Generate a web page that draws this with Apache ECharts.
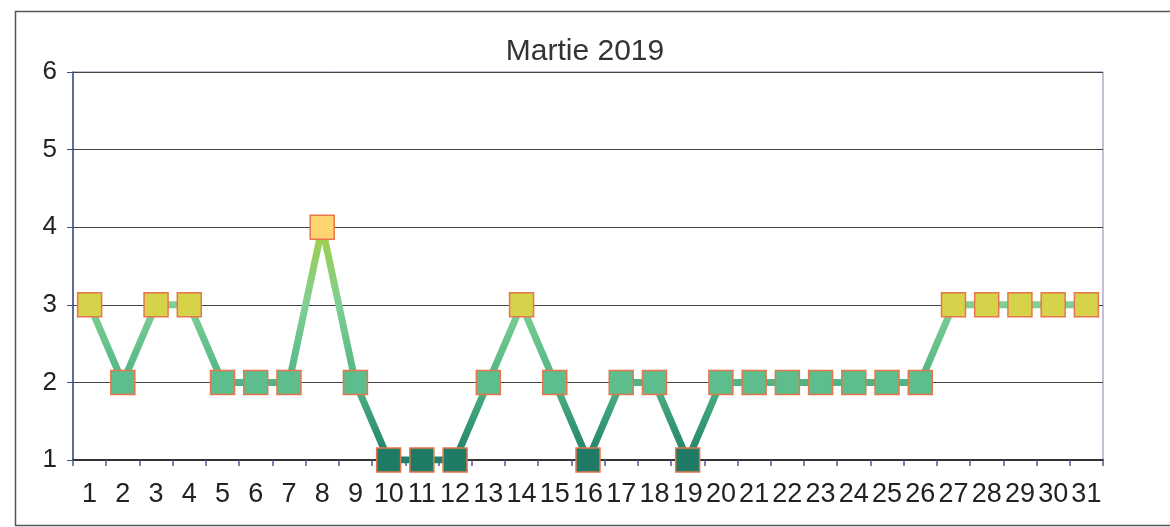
<!DOCTYPE html>
<html>
<head>
<meta charset="utf-8">
<script src="https://cdn.jsdelivr.net/npm/echarts@6/dist/echarts.min.js"></script>
<style>html,body{margin:0;padding:0;background:#fff}#c{width:1170px;height:527px}</style>
</head>
<body>
<div id="c"></div>
<script>
const title = "Martie 2019";
const days = ["1","2","3","4","5","6","7","8","9","10","11","12","13","14","15","16","17","18","19","20","21","22","23","24","25","26","27","28","29","30","31"];
const values = [3,2,3,3,2,2,2,4,2,1,1,1,2,3,2,1,2,2,1,2,2,2,2,2,2,2,3,3,3,3,3];
const yTicks = [1,2,3,4,5,6];
const markerColorByValue = {1:"#1f7a66", 2:"#5dbd8c", 3:"#d6d24a", 4:"#fdd470"};
const lineColors = ["#1f7f6a", "#4fb583", "#80cf94", "#a2cf46"];

const font = "'Liberation Sans', Arial, sans-serif";
const chart = echarts.init(document.getElementById('c'));
chart.setOption({
  animation: false,
  backgroundColor: '#fff',
  title: {text: title, left: 'center', top: 32, textStyle: {fontFamily: font, fontSize: 30, fontWeight: 'normal', color: '#333'}},
  graphic: [{type: 'rect', left: 13, top: 9, shape: {width: 1180, height: 514}, style: {fill: 'none', stroke: '#555', lineWidth: 1.5}, silent: true}],
  grid: {left: 73, right: 67, top: 72, bottom: 67, show: true, borderColor: '#8f80a8', borderWidth: 1},
  visualMap: {type: 'continuous', show: false, seriesIndex: 0, dimension: 1, min: 1, max: 4, inRange: {color: lineColors}},
  xAxis: {
    type: 'category', data: days, boundaryGap: true,
    axisLine: {lineStyle: {color: '#333', width: 2}},
    axisTick: {show: true, interval: 0, length: 6, lineStyle: {color: '#4a5a8a', width: 1.5}},
    axisLabel: {interval: 0, margin: 21, fontFamily: font, fontSize: 27, color: '#222'},
  },
  yAxis: {
    type: 'value', min: 1, max: 6, interval: 1,
    axisLine: {show: true, lineStyle: {color: '#3e4f85', width: 1.5}},
    axisTick: {show: true, length: 6, lineStyle: {color: '#3e4f85'}},
    axisLabel: {margin: 16, fontFamily: font, fontSize: 26, color: '#222', formatter: v => yTicks.includes(v) ? String(v) : ''},
    splitLine: {lineStyle: {color: '#444', width: 1.2}}
  },
  series: [
    {type: 'line', data: values, showSymbol: false, lineStyle: {width: 7}, z: 2},
    {type: 'line', data: values.map(v => ({value: v, itemStyle: {color: markerColorByValue[v]}})),
     symbol: 'rect', symbolSize: 24, showSymbol: true, lineStyle: {opacity: 0},
     itemStyle: {borderColor: '#e8764c', borderWidth: 1.5}, z: 3}
  ]
});
</script>
</body>
</html>
